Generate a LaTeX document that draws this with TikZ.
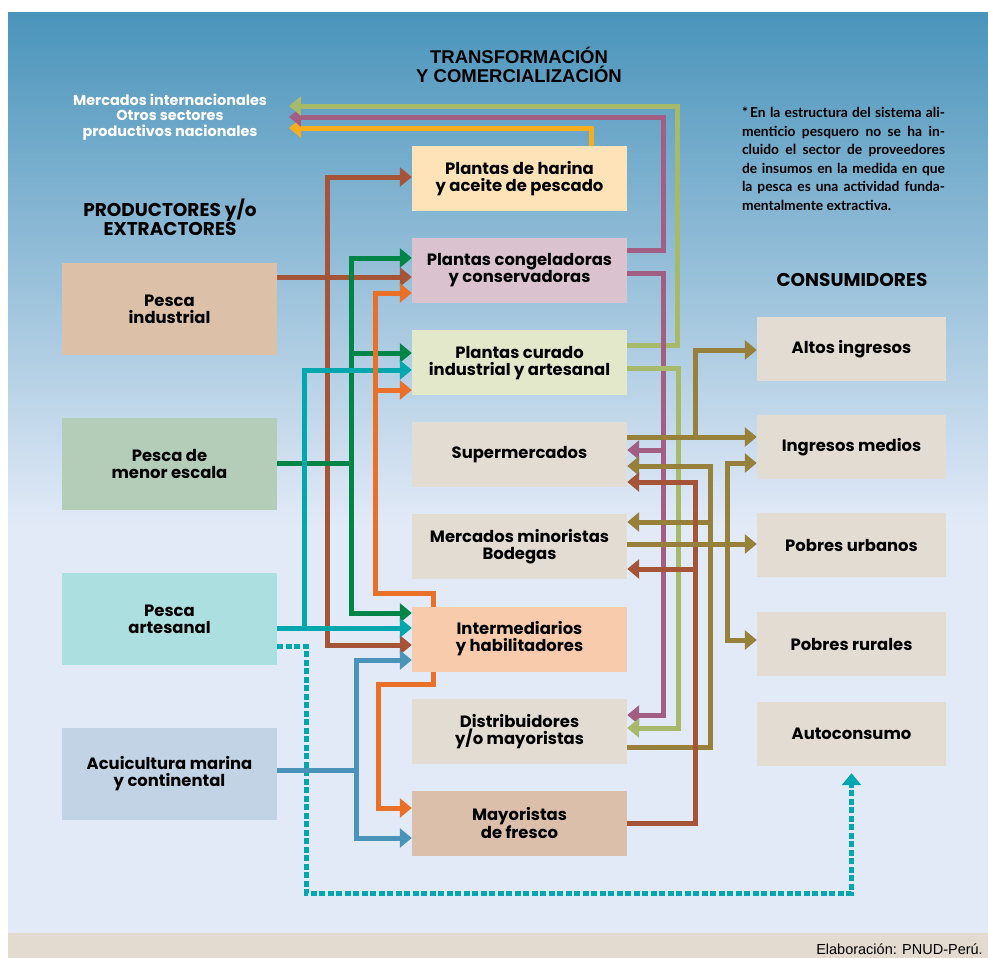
\documentclass[tikz,border=0pt]{standalone}
\usepackage{fontspec}
\setmainfont{Poppins}
\newfontfamily\headfont{Liberation Sans}
\newfontfamily\notefont{Lato}
\usetikzlibrary{arrows.meta,positioning}

\definecolor{bgtop}{RGB}{74,148,187}
\definecolor{bgbot}{RGB}{226,234,247}
\definecolor{pie}{RGB}{227,219,208}
\definecolor{harinac}{RGB}{253,227,183}
\definecolor{congelc}{RGB}{219,194,207}
\definecolor{curadoc}{RGB}{226,232,201}
\definecolor{beige}{RGB}{227,220,211}
\definecolor{intermc}{RGB}{247,203,172}
\definecolor{frescoc}{RGB}{220,191,170}
\definecolor{indusc}{RGB}{220,192,168}
\definecolor{menorc}{RGB}{179,205,184}
\definecolor{artesc}{RGB}{172,223,223}
\definecolor{acuic}{RGB}{195,211,230}
\definecolor{brn}{RGB}{166,84,55}
\definecolor{dgr}{RGB}{0,133,72}
\definecolor{org}{RGB}{234,112,40}
\definecolor{tel}{RGB}{0,168,173}
\definecolor{blu}{RGB}{74,148,186}
\definecolor{prp}{RGB}{163,94,132}
\definecolor{lgr}{RGB}{166,186,106}
\definecolor{ylw}{RGB}{248,173,28}
\definecolor{olv}{RGB}{150,128,58}

\pgfdeclarelayer{bg}
\pgfdeclarelayer{lines}
\pgfsetlayers{bg,lines,main}

\newcommand\boxfont{\fontsize{16.4}{17}\selectfont\bfseries}
\newcommand\jline[1]{\makebox[203pt][s]{#1}\\}

\tikzset{
  box/.style={rectangle, inner sep=0pt, align=center, font=\boxfont},
  mid/.style={box, minimum width=215pt, minimum height=65pt},
  src/.style={box, minimum width=215pt, minimum height=92pt},
  cons/.style={box, minimum width=189pt, minimum height=64pt, fill=beige},
  heading/.style={align=center, font=\fontsize{18.5}{19}\selectfont\bfseries},
  conn/.style={line width=5pt, line cap=rect, line join=miter},
  tip/.style={-{Triangle[width=19pt,length=12pt]}},
  dotted line/.style={line width=5pt, line cap=butt, dash pattern=on 6pt off 2.5pt}
}

\begin{document}
\begin{tikzpicture}[x=1pt, y=-1pt]
  \useasboundingbox (0,0) rectangle (988,958);

  % background
  \begin{pgfonlayer}{bg}
    \fill[white] (0,0) rectangle (988,958);
    \shade[top color=bgtop, bottom color=bgbot] (8,13) rectangle (988,525);
    \fill[bgbot] (8,524) rectangle (988,933);
    \fill[pie] (8,933) rectangle (988,958);
  \end{pgfonlayer}

  % transformation and trade
  \node[mid, fill=harinac] (harina) at (519.5,178.5) {Plantas de harina\\y aceite de pescado};
  \node[mid, fill=congelc] (congel) at (519.5,270.6) {Plantas congeladoras\\y conservadoras};
  \node[mid, fill=curadoc] (curado) at (519.5,362.7) {Plantas curado\\industrial y artesanal};
  \node[mid, fill=beige] (super) at (519.5,454.8) {Supermercados};
  \node[mid, fill=beige] (minor) at (519.5,546.9) {Mercados minoristas\\Bodegas};
  \node[mid, fill=intermc] (interm) at (519.5,639) {Intermediarios\\y habilitadores};
  \node[mid, fill=beige] (distri) at (519.5,731.1) {Distribuidores\\y/o mayoristas};
  \node[mid, fill=frescoc] (fresco) at (519.5,823.2) {Mayoristas\\de fresco};

  % producers
  \node[src, fill=indusc] (indus) at (169.5,309) {Pesca\\industrial};
  \node[src, fill=menorc] (menor) at (169.5,463.5) {Pesca de\\menor escala};
  \node[src, fill=artesc] (artes) at (169.5,619) {Pesca\\artesanal};
  \node[src, fill=acuic] (acui) at (169.5,773.5) {Acuicultura marina\\y continental};

  % consumers
  \node[cons] (altos) at (851.5,349) {Altos ingresos};
  \node[cons] (medios) at (851.5,447) {Ingresos medios};
  \node[cons] (urbanos) at (851.5,545) {Pobres urbanos};
  \node[cons] (rurales) at (851.5,644) {Pobres rurales};
  \node[cons] (auto) at (851.5,734) {Autoconsumo};

  % headings and texts
  \node[align=center, font=\headfont\fontsize{18.5}{18.5}\selectfont\bfseries] (titulo) at (519,65)
    {TRANSFORMACIÓN\\Y COMERCIALIZACIÓN};
  \node[heading] (prod) at (170,217) {PRODUCTORES y/o\\EXTRACTORES};
  \node[heading] (consu) at (852,280) {CONSUMIDORES};
  \node[align=center, text=white, font=\fontsize{14.4}{15.8}\selectfont\bfseries] (ext) at (170,117)
    {Mercados internacionales\\Otros sectores\\productivos nacionales};
  \coordinate (out) at (289,117);
  \node[inner sep=0pt, align=left, font=\notefont\fontsize{13.8}{18.5}\selectfont\bfseries] (nota) at (843.5,159)
    {\jline{*\,En la estructura del sistema ali-}%
     \jline{menticio pesquero no se ha in-}%
     \jline{cluido el sector de proveedores}%
     \jline{de insumos en la medida en que}%
     \jline{la pesca es una actividad funda-}%
     mentalmente extractiva.};
  \node[anchor=base east, inner sep=0pt, font=\headfont\fontsize{14.5}{14.5}\selectfont] (fuente) at (983,954)
    {Elaboración: PNUD-Perú.};

  \begin{pgfonlayer}{lines}
  % to the outside
  \draw[conn, ylw, tip] (harina.north -| 591,0) |- (out |- 0,128);
  \draw[conn, prp, tip] (congel.east |- 0,250) -| (663,117) -- (out |- 0,117);
  \draw[conn, lgr, tip] (curado.east |- 0,345) -| (677,106) -- (out |- 0,106);

  % inside the chain
  \draw[conn, prp, tip] (congel.east |- 0,273) -| (663,715) -- (distri.east |- 0,715);
  \draw[conn, prp, tip] (663,450) -- (super.east |- 0,450);
  \draw[conn, lgr, tip] (curado.east |- 0,368) -| (678,728) -- (distri.east |- 0,728);
  \draw[conn, olv, tip] (distri.east |- 0,747) -| (710,466) -- (super.east |- 0,466);
  \draw[conn, olv, tip] (710,522) -- (minor.east |- 0,522);
  \draw[conn, brn, tip] (fresco.east) -| (695,482) -- (super.east |- 0,482);
  \draw[conn, brn, tip] (695,569) -- (minor.east |- 0,569);

  % to the consumers
  \draw[conn, olv, tip] (super.east |- 0,437) -- (medios.west |- 0,437);
  \draw[conn, olv, tip] (695,437) |- (altos.west |- 0,350);
  \draw[conn, olv, tip] (minor.east |- 0,544) -- (urbanos.west |- 0,544);
  \draw[conn, olv, tip] (727,544) |- (medios.west |- 0,463);
  \draw[conn, olv, tip] (727,544) |- (rurales.west |- 0,640);

  % from the producers
  \draw[conn, brn, tip] (indus.east |- 0,277) -- (congel.west |- 0,277);
  \draw[conn, brn, tip] (327,277) |- (harina.west |- 0,177);
  \draw[conn, brn, tip] (327,277) |- (interm.west |- 0,645);

  \draw[conn, dgr] (menor.east) -- (351,463.5);
  \draw[conn, dgr, tip] (351,463.5) |- (congel.west |- 0,258);
  \draw[conn, dgr, tip] (351,353) -- (curado.west |- 0,353);
  \draw[conn, dgr, tip] (351,463.5) |- (interm.west |- 0,613);

  \draw[conn, tel, tip] (artes.east |- 0,628) -- (interm.west |- 0,628);
  \draw[conn, tel, tip] (304,628) |- (curado.west |- 0,370);
  \draw[dotted line, tel, tip, shorten >=7pt] (artes.east |- 0,646) -| (306,893) -| (auto.south);

  \draw[conn, blu] (acui.east |- 0,770) -- (356,770);
  \draw[conn, blu, tip] (356,770) |- (interm.west |- 0,660);
  \draw[conn, blu, tip] (356,770) |- (fresco.west |- 0,838);

  \draw[conn, org, tip] (interm.north -| 433,0) |- (375,593) |- (congel.west |- 0,293);
  \draw[conn, org, tip] (375,390) -- (curado.west |- 0,390);
  \draw[conn, org, tip] (interm.south -| 433,0) |- (378,684) |- (fresco.west |- 0,808);
  \end{pgfonlayer}
\end{tikzpicture}
\end{document}
